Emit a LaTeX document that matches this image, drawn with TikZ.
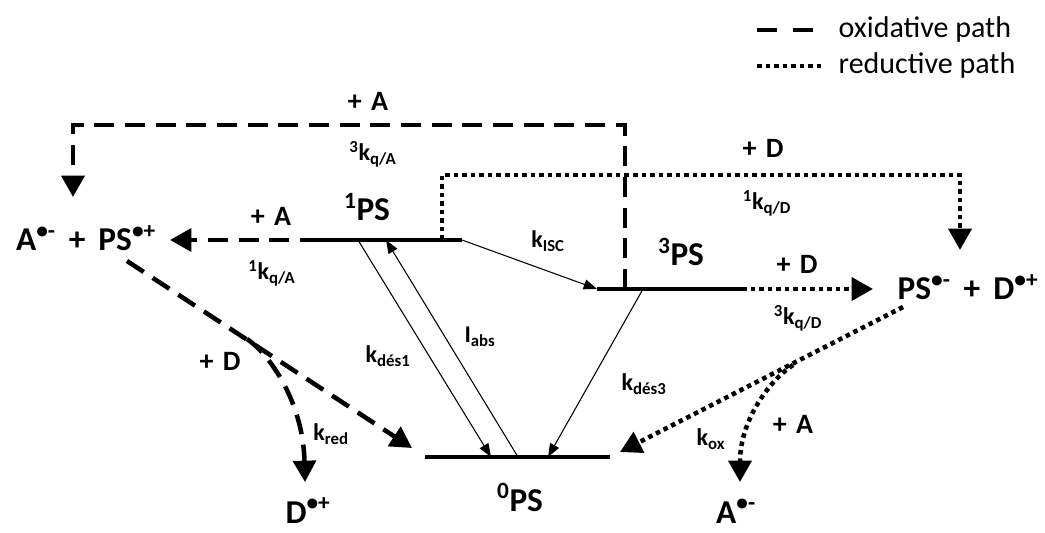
\documentclass[tikz,border=0pt]{standalone}
\usepackage{fontspec}
\setmainfont{Carlito}
\usetikzlibrary{arrows.meta}

\begin{document}
\begin{tikzpicture}[x=0.75pt,y=-0.75pt,
    level/.style={line width=3.5pt},
    oxpath/.style={line width=3.4pt,dash pattern=on 15pt off 8pt,-{Triangle[length=16pt,width=17pt]}},
    redpath/.style={line width=3.4pt,dash pattern=on 3.4pt off 3pt,-{Triangle[length=16pt,width=17pt]}},
    rate/.style={line width=0.8pt,-{Triangle[length=10pt,width=7.5pt]}},
    species/.style={font=\fontsize{25}{29}\selectfont\bfseries},
    plus/.style={font=\fontsize{21}{25}\selectfont\bfseries},
    klbl/.style={font=\fontsize{18}{21}\selectfont\bfseries}]
  \useasboundingbox (0,0) rectangle (1045,532);
  % energy levels
  \coordinate (s1l) at (320,240); \coordinate (s1r) at (462,240);
  \coordinate (s3l) at (597,289); \coordinate (s3r) at (742,289);
  \coordinate (s0l) at (425,457); \coordinate (s0r) at (610,457);
  \draw[level] (s1l) -- (s1r);
  \draw[level] (s3l) -- (s3r);
  \draw[level] (s0l) -- (s0r);
  \node[species] (n1) at (367,207) {\textsuperscript{1}PS};
  \node[species] (n3) at (681,252) {\textsuperscript{3}PS};
  \node[species,anchor=base] (n0) at (520,511) {\textsuperscript{0}PS};
  \node[species] (ox) at (86,238) {A\textsuperscript{•-}\ \,+\ \,PS\textsuperscript{•+}};
  \node[species] (rd) at (968,287) {PS\textsuperscript{•-}\ \,+\ \,D\textsuperscript{•+}};
  \node[species,anchor=base,inner sep=1pt] (dp) at (308,523) {D\textsuperscript{•+}};
  \node[species,anchor=base,inner sep=1pt] (am) at (736,523) {A\textsuperscript{•-}};
  % points on the levels
  \coordinate (s1a) at (358,240); \coordinate (s1b) at (386,240);
  \coordinate (s1d) at (442,240); \coordinate (s3a) at (643,289);
  \coordinate (s3q) at (625,289);
  \coordinate (g1) at (491,457); \coordinate (g2) at (518,457);
  \coordinate (g3) at (548,457);
  % free ends of the quenching arrows
  \coordinate (oxin1) at (170,240); \coordinate (oxin3) at (73,197);
  \coordinate (rdin1) at (960,250); \coordinate (rdin3) at (873,289);
  \coordinate (oxout) at (127,261); \coordinate (g0in) at (412,448);
  \coordinate (oxbr) at (247,339); \coordinate (dpin) at (305,482);
  \coordinate (rdout) at (903,307); \coordinate (g0in2) at (620,452);
  \coordinate (rdbr) at (793,365); \coordinate (amin) at (740,482);
  % photophysics
  \draw[rate] (s1r) -- (s3l);
  \draw[rate] (s1a) -- (g1);
  \draw[rate] (g2) -- (s1b);
  \draw[rate] (s3a) -- (g3);
  \node[klbl] (kisc) at (548,241) {k\textsubscript{ISC}};
  \node[klbl] (kd1) at (388,356) {k\textsubscript{dés1}};
  \node[klbl] (iabs) at (480,337) {I\textsubscript{abs}};
  \node[klbl] (kd3) at (644,384) {k\textsubscript{dés3}};
  % oxidative path
  \draw[oxpath] (s1l) -- (oxin1);
  \draw[oxpath] (s3q) -- (s3q |- 0,125) -| (oxin3);
  \draw[oxpath] (oxout) -- (g0in);
  \draw[oxpath] (oxbr) .. controls (268,353) and (303,400) .. (dpin);
  \node[plus] (pa1) at (271,216) {+\,\,A};
  \node[klbl] (kqa1) at (272,273) {\textsuperscript{1}k\textsubscript{q/A}};
  \node[plus] (pa3) at (368,101) {+\,\,A};
  \node[klbl] (kqa3) at (373,154) {\textsuperscript{3}k\textsubscript{q/A}};
  \node[plus] (pd0) at (220,361) {+\,\,D};
  \node[klbl] (kred) at (331,434) {k\textsubscript{red}};
  % reductive path
  \draw[redpath] (s1d) -- (s1d |- 0,175) -| (rdin1);
  \draw[redpath] (s3r) -- (rdin3);
  \draw[redpath] (rdout) -- (g0in2);
  \draw[redpath] (rdbr) .. controls (770,380) and (740,420) .. (amin);
  \node[plus] (pd1) at (763,148) {+\,\,D};
  \node[klbl] (kqd1) at (767,203) {\textsuperscript{1}k\textsubscript{q/D}};
  \node[plus] (pd3) at (797,264) {+\,\,D};
  \node[klbl] (kqd3) at (798,318) {\textsuperscript{3}k\textsubscript{q/D}};
  \node[plus] (pa0) at (793,424) {+\,\,A};
  \node[klbl] (kox) at (711,439) {k\textsubscript{ox}};
  % legend
  \node[font=\fontsize{22.5}{26}\selectfont,anchor=west] (leg1) at (834,30) {oxidative path};
  \node[font=\fontsize{22.5}{26}\selectfont,anchor=west] (leg2) at (834,65) {reductive path};
  \draw[line width=3.4pt,dash pattern=on 15pt off 12pt] (757,30) -- (817,30);
  \draw[line width=3.4pt,dash pattern=on 3.4pt off 3pt] (757,66) -- (822,66);
\end{tikzpicture}
\end{document}
